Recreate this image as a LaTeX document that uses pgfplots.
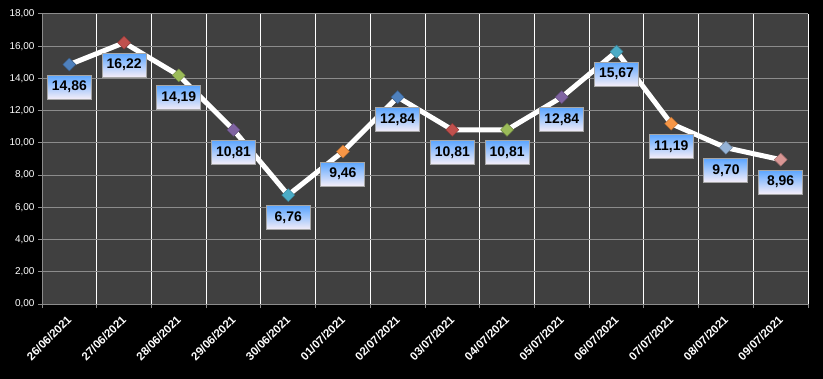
\documentclass[border=0pt]{standalone}
\usepackage{fontspec}
\setmainfont{Liberation Sans}
\usepackage{pgfplots}
\pgfplotsset{compat=1.18}
\usepackage{pgfplotstable}
\definecolor{plotbg}{HTML}{404040}
\definecolor{gridgray}{HTML}{8C8C8C}
\definecolor{ca}{HTML}{4F81BD}
\definecolor{cb}{HTML}{C0504D}
\definecolor{cc}{HTML}{9BBB59}
\definecolor{cd}{HTML}{8064A2}
\definecolor{ce}{HTML}{4BACC6}
\definecolor{cf}{HTML}{F79646}
\definecolor{cg}{HTML}{95B3D7}
\definecolor{ch}{HTML}{D99694}
\definecolor{lbltop}{HTML}{5AA5FF}
\definecolor{lblbot}{HTML}{F6EEF8}
\pgfplotstableread{
x y c
0 14.86 a
1 16.22 b
2 14.19 c
3 10.81 d
4 6.76 e
5 9.46 f
6 12.84 a
7 10.81 b
8 10.81 c
9 12.84 d
10 15.67 e
11 11.19 f
12 9.70 g
13 8.96 h
}\datatable
\begin{document}
\begin{tikzpicture}
\fill[black] (0,0) rectangle (823bp,379bp);
\useasboundingbox (0,0) rectangle (823bp,379bp);
\begin{axis}[
  at={(42bp,75bp)}, anchor=south west,
  scale only axis, width=766bp, height=290bp,
  clip=false,
  xmin=-0.5, xmax=13.5, ymin=0, ymax=18,
  ytick={0,2,...,18},
  xtick={-0.5,0.5,...,13.5},
  xticklabels={},
  extra x ticks={0,1,...,13},
  extra x tick labels={26/06/2021,27/06/2021,28/06/2021,29/06/2021,30/06/2021,01/07/2021,02/07/2021,03/07/2021,04/07/2021,05/07/2021,06/07/2021,07/07/2021,08/07/2021,09/07/2021},
  extra x tick style={grid=none, major tick length=0pt, tick style={draw=none}},
  axis background/.style={fill=plotbg},
  axis lines=left,
  axis line style={-, draw=gridgray, line width=1bp},
  tick align=outside,
  major tick length=4bp,
  tick style={draw=gridgray, line width=1bp},
  xmajorgrids, ymajorgrids,
  every axis x grid/.style={draw=white, line width=1bp},
  every axis y grid/.style={draw=gridgray, line width=1bp},
  yticklabel style={text=white, font=\fontsize{10}{12}\selectfont},
  xticklabel style={text=white, font=\fontsize{11.5}{13}\selectfont\bfseries, yshift=-9bp, xshift=-3bp, rotate=45, anchor=north east, inner sep=1bp},
  /pgf/number format/.cd, fixed, fixed zerofill, precision=2, use comma, assume math mode=true,
]
\addplot[white, line width=5bp, line join=round, mark=none] table[x=x,y=y] {\datatable};
\addplot[scatter, only marks, scatter src=explicit symbolic,
  mark options={rotate=45},
  scatter/classes={
    a={mark=square*, fill=ca, draw=ca!70!black},
    b={mark=square*, fill=cb, draw=cb!70!black},
    c={mark=square*, fill=cc, draw=cc!70!black},
    d={mark=square*, fill=cd, draw=cd!70!black},
    e={mark=square*, fill=ce, draw=ce!70!black},
    f={mark=square*, fill=cf, draw=cf!70!black},
    g={mark=square*, fill=cg, draw=cg!70!black},
    h={mark=square*, fill=ch, draw=ch!70!black}},
  mark size=4.6bp] table[x=x,y=y,meta=c] {\datatable};
\addplot[draw=none, mark=none, point meta=y,
  nodes near coords={\pgfmathprintnumber[fixed,fixed zerofill,precision=2,use comma,assume math mode=true]{\pgfplotspointmeta}},
  every node near coord/.style={anchor=north, yshift=-10bp, draw=gray!70, line width=1bp, top color=lbltop, bottom color=lblbot, text=black, font=\fontsize{14}{16}\selectfont\bfseries, minimum width=44bp, minimum height=24bp, inner sep=2bp}
] table[x=x,y=y] {\datatable};
\end{axis}
\end{tikzpicture}
\end{document}
